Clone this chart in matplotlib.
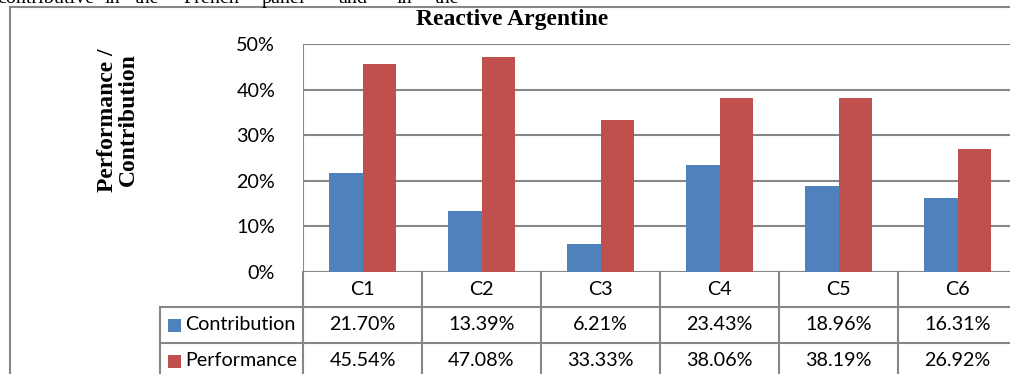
import matplotlib
matplotlib.use("Agg")
import matplotlib.pyplot as plt
from matplotlib.lines import Line2D
from matplotlib.patches import Rectangle
import matplotlib.transforms as mtransforms

W, H = 1010, 374

# ---- data -------------------------------------------------------------
categories = ["C1", "C2", "C3", "C4", "C5", "C6"]
contribution = [21.70, 13.39, 6.21, 23.43, 18.96, 16.31]
performance = [45.54, 47.08, 33.33, 38.06, 38.19, 26.92]
series_names = ["Contribution", "Performance"]
y_ticks = [0, 10, 20, 30, 40, 50]
title = "Reactive Argentine"
y_label = "Performance /\nContribution"
running_text = ["contributive", "in", "the", "French", "panel", "and", "in", "the"]
running_text_x = [-3, 105, 135, 183, 262, 338, 397, 435]

BLUE = "#4F81BD"
RED = "#C0504D"
GRID = "#878787"
SANS = ["Lato", "DejaVu Sans"]
SERIF = ["Liberation Serif", "DejaVu Serif"]
FS = 14.2


def fx(px):
    return px / W


def fy(px):
    return 1 - px / H


fig = plt.figure(figsize=(W / 100, H / 100), dpi=100)
fig.patch.set_facecolor("white")

# running text from the page, cut by the top edge
for word, x in zip(running_text, running_text_x):
    fig.text(fx(x), fy(3), word, fontsize=14.5, family=SERIF,
             ha="left", va="baseline", color="black")

# outer chart frame
fig.add_artist(Line2D([fx(10), fx(1012)], [fy(7), fy(7)], transform=fig.transFigure,
                      color=GRID, lw=1.5))
fig.add_artist(Line2D([fx(10), fx(10)], [fy(7), fy(380)], transform=fig.transFigure,
                      color=GRID, lw=1.5))

# ---- plot area --------------------------------------------------------
left_px, right_px, top_px, bottom_px = 303, 1017, 44, 272
ax = fig.add_axes([fx(left_px), fy(bottom_px), (right_px - left_px) / W,
                   (bottom_px - top_px) / H])
ax.set_xlim(-0.5, len(categories) - 0.5)
ax.set_ylim(0, 50)
for s in ax.spines.values():
    s.set_visible(False)
ax.set_xticks([])
ax.set_yticks(y_ticks)
ax.set_yticklabels([f"{t}%" for t in y_ticks], fontsize=FS, family=SANS)
ax.tick_params(axis="y", length=0, pad=20)
for t in y_ticks:
    ax.axhline(t, color=GRID, lw=1.5, zorder=1)
ax.axvline(-0.5, color=GRID, lw=1.5, zorder=1)

bw = 0.285
xs = list(range(len(categories)))
ax.bar([x - bw / 2 for x in xs], contribution, width=bw, color=BLUE, zorder=2)
ax.bar([x + bw / 2 for x in xs], performance, width=bw, color=RED, zorder=2)

fig.text(fx(512), fy(25), title, fontsize=17, fontweight="bold", family=SERIF,
         ha="center", va="baseline")
fig.text(fx(118), fy(120), y_label, fontsize=17, fontweight="bold", family=SERIF,
         rotation=90, ha="center", va="center", multialignment="center",
         linespacing=1.0)

# ---- data table -------------------------------------------------------
blend = mtransforms.blended_transform_factory(ax.transData, fig.transFigure)
row_lines = [272, 307, 343, 379]
legend_left = 160

for b in [i - 0.5 for i in range(len(categories) + 1)]:
    fig.add_artist(Line2D([b, b], [fy(272), fy(380)], transform=blend,
                          color=GRID, lw=1.5))
for y in row_lines[1:3]:
    fig.add_artist(Line2D([fx(legend_left), fx(1012)], [fy(y), fy(y)],
                          transform=fig.transFigure, color=GRID, lw=1.5))
fig.add_artist(Line2D([fx(legend_left), fx(legend_left)], [fy(307), fy(380)],
                      transform=fig.transFigure, color=GRID, lw=1.5))

header_y = (row_lines[0] + row_lines[1]) / 2
for x, c in zip(xs, categories):
    fig.text(x, fy(header_y), c, transform=blend, fontsize=FS, family=SANS,
             ha="center", va="center")

rows = [contribution, performance]
colors = [BLUE, RED]
for r, (name, vals, col) in enumerate(zip(series_names, rows, colors)):
    yc = (row_lines[r + 1] + row_lines[r + 2]) / 2
    fig.add_artist(Rectangle((fx(168), fy(yc + 6.5)), 12.5 / W, 13 / H,
                             transform=fig.transFigure, color=col, lw=0))
    fig.text(fx(185), fy(yc), name, fontsize=FS, family=SANS,
             ha="left", va="center")
    for x, v in zip(xs, vals):
        fig.text(x, fy(yc), f"{v:.2f}%", transform=blend, fontsize=FS,
                 family=SANS, ha="center", va="center")

fig.savefig("out.png", dpi=100)
